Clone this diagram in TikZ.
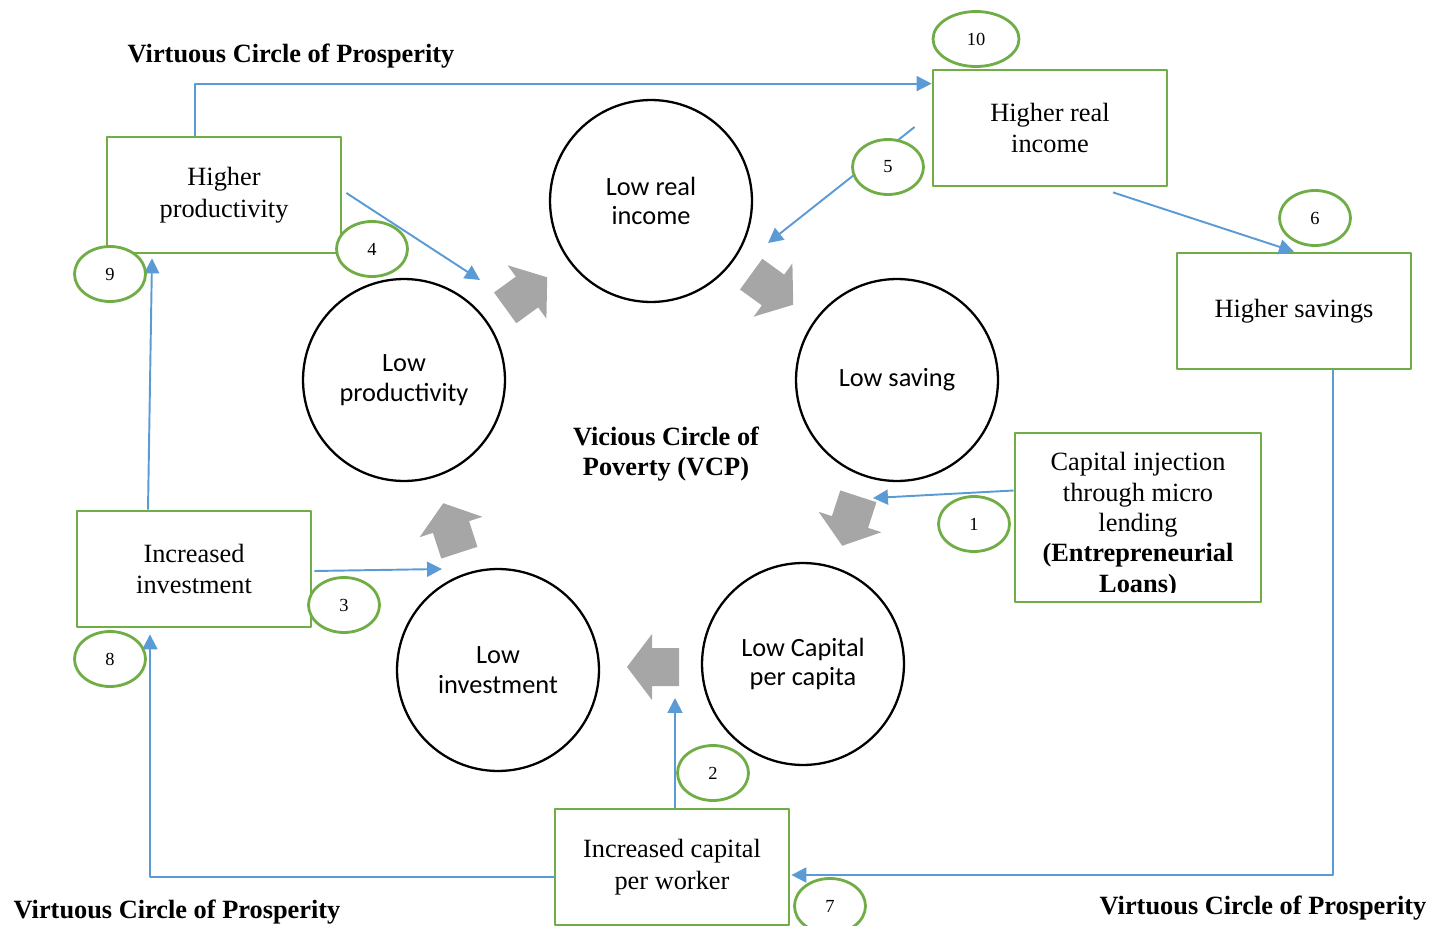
\documentclass[tikz,border=0pt]{standalone}
\usepackage{fontspec}
\setmainfont{Liberation Serif}
\newfontfamily\calibrifont{Carlito}
\usetikzlibrary{arrows.meta,calc,shapes.geometric}
\definecolor{boxgreen}{HTML}{70AD47}
\definecolor{linkblue}{HTML}{5B9BD5}
\definecolor{arrowgray}{HTML}{A6A6A6}
% block arrow: x, y of the head base, direction
\newcommand{\fatarrow}[3]{\fill[arrowgray, shift={(#1,#2)}, rotate=#3] (-27,-19) -- (0,-19) -- (0,-33) -- (25,0) -- (0,33) -- (0,19) -- (-27,19) -- cycle;}

\begin{document}
\begin{tikzpicture}[x=0.02cm, y=-0.02cm, line join=round,
    circ/.style={circle, draw=black, line width=1.3pt, minimum size=4.04cm, inner sep=0pt, align=center, font=\calibrifont\fontsize{15}{17}\selectfont},
    gbox/.style={draw=boxgreen, line width=1.6pt, minimum width=4.68cm, minimum height=2.32cm, inner sep=0pt, align=center, font=\fontsize{15}{18}\selectfont},
    num/.style={ellipse, draw=boxgreen, line width=1.6pt, fill=white, minimum width=1.42cm, minimum height=1.1cm, inner sep=0pt, font=\fontsize{10.5}{12}\selectfont},
    flow/.style={draw=linkblue, line width=1.1pt, -{Triangle[length=8.5pt,width=8.5pt]}},
    title/.style={align=center, inner sep=0pt, font=\bfseries\fontsize{15}{17.5}\selectfont}]
    \useasboundingbox (0,0) rectangle (1444,926);
    \clip (0,0) rectangle (1444,926);
    % vicious circle
    \node[circ] (lowinc) at (651,201) {Low real\\income};
    \node[circ] (lowsav) at (897,380) {Low saving};
    \node[circ] (lowcap) at (803,664) {Low Capital\\per capita};
    \node[circ] (lowinv) at (498,670) {Low\\investment};
    \node[circ] (lowprod) at (404,380) {Low\\productivity};
    \fatarrow{527}{292}{36}
    \fatarrow{773}{290}{-36}
    \fatarrow{850}{522}{252}
    \fatarrow{652}{667}{180}
    \fatarrow{451}{527}{108}
    \node[title] (vcp) at (666,454) {Vicious Circle of\\Poverty (VCP)};
    % virtuous circle boxes
    \node[gbox] (hprod) at (224,195) {Higher\\productivity};
    \node[gbox] (hinc) at (1050,128) {Higher real\\income};
    \node[gbox] (hsav) at (1294,311) {Higher savings};
    \node[gbox] (iinv) at (194,569) {Increased\\investment};
    \node[gbox] (icap) at (672,867) {Increased capital\\per worker};
    \node[gbox, minimum width=4.92cm, minimum height=3.38cm] (inject) at (1138,517.5) {};
    \begin{scope}
        \clip ($(inject.north west)+(2,2)$) rectangle ($(inject.south east)+(-2,-11)$);
        \node[anchor=north, align=center, inner sep=0pt, font=\fontsize{15}{17.3}\selectfont] (injecttext) at (1138,452)
            {Capital injection\\through micro\\lending\\\textbf{(Entrepreneurial}\\\textbf{Loans)}};
    \end{scope}
    % loose ends of the links
    \coordinate (e1) at (873,498);
    \coordinate (e2) at (675,698);
    \coordinate (e3) at (442,569);
    \coordinate (e4) at (480,280);
    \coordinate (e5) at (768,243);
    % links
    \draw[flow] ($(inject.west)+(0,-27)$) -- (e1);
    \draw[flow] ($(icap.north)+(3,0)$) -- (e2);
    \draw[flow] ($(iinv.east)+(2,2)$) -- (e3);
    \draw[flow] ($(hprod.east)+(4,-2)$) -- (e4);
    \draw[flow] ($(hinc.west)+(-17,-1)$) -- (e5);
    \draw[flow] ($(hinc.south)+(63,5)$) -- (hsav.north);
    \draw[flow] ($(hsav.south)+(39,0)$) |- ($(icap.east)+(1,8)$);
    \draw[flow] ($(icap.west)+(2,10)$) -| ($(iinv.south)+(-44,6)$);
    \draw[flow] ($(iinv.north)+(-46,0)$) -- ($(hprod.south)+(-72,4)$);
    \draw[flow] ($(hprod.north)+(-29,0)$) |- ($(hinc.north west)+(0,15)$);
    % step numbers
    \node[num] (n1) at (974,524) {1};
    \node[num] (n2) at (713,773) {2};
    \node[num] (n3) at (344,605) {3};
    \node[num] (n4) at (372,249) {4};
    \node[num] (n5) at (888,167) {5};
    \node[num] (n6) at (1315,218) {6};
    \node[num] (n7) at (830,906) {7};
    \node[num] (n8) at (110,659) {8};
    \node[num] (n9) at (110,274) {9};
    \node[num, minimum width=1.72cm] (n10) at (976,39) {10};
    % titles
    \node[title] (vtop) at (291,56) {Virtuous Circle of Prosperity};
    \node[title] (vleft) at (177,912) {Virtuous Circle of Prosperity};
    \node[title] (vright) at (1263,908) {Virtuous Circle of Prosperity};
\end{tikzpicture}
\end{document}
